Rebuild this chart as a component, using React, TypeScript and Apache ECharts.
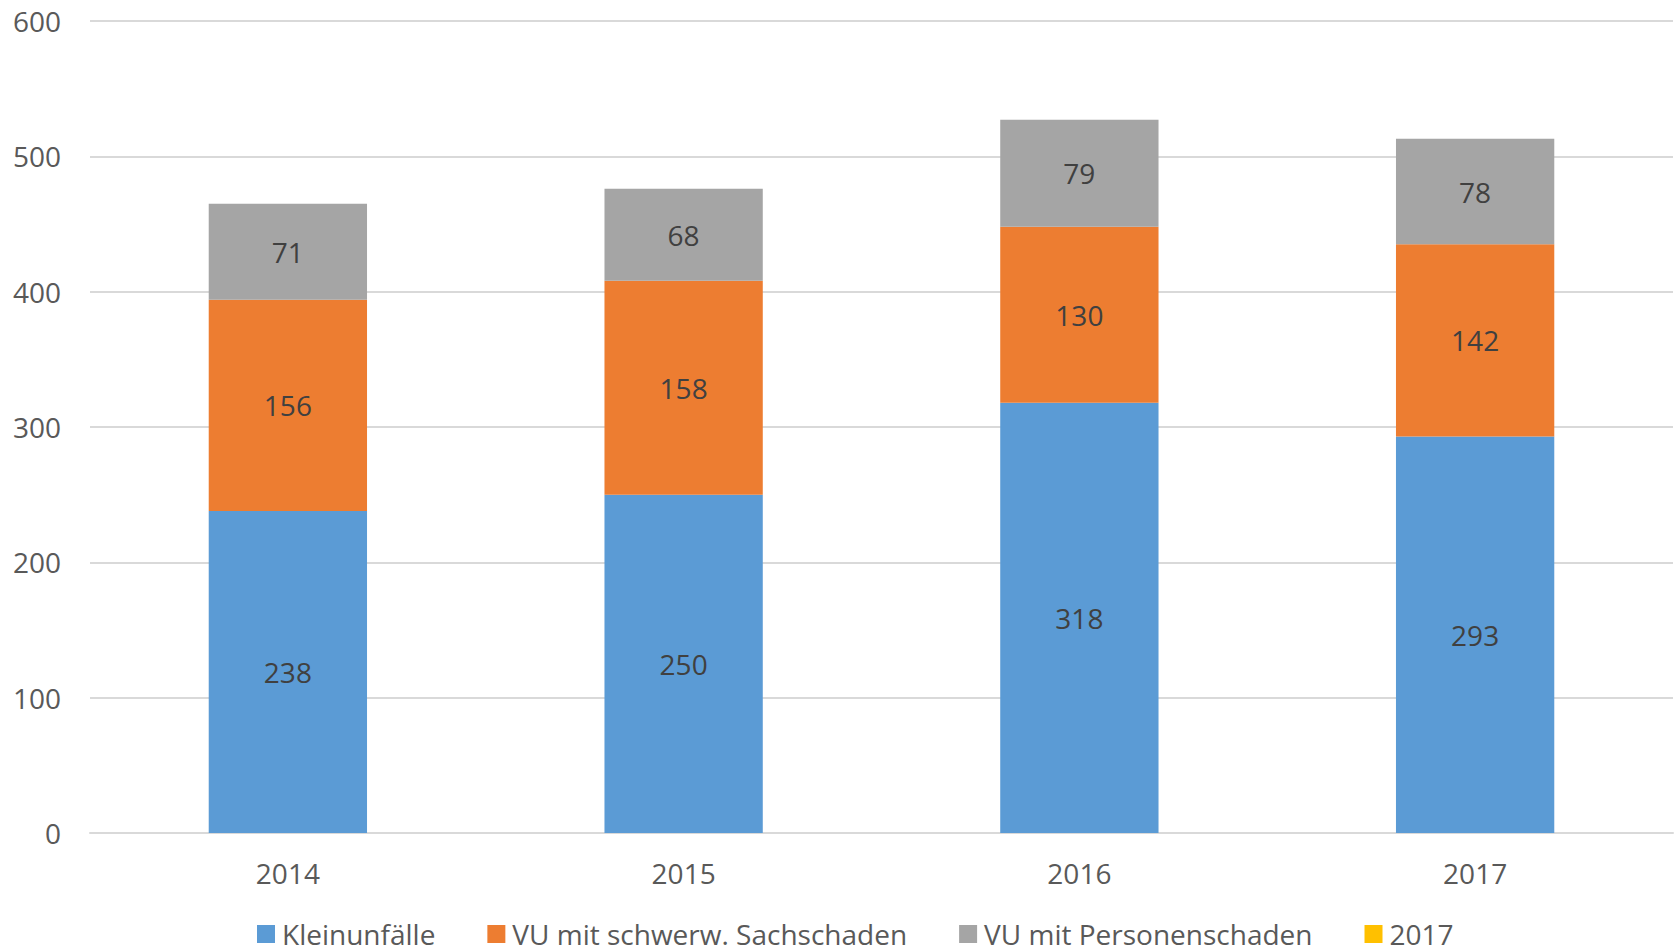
import React, { useEffect, useRef } from "react";
import * as echarts from "echarts";

const categories = ["2014", "2015", "2016", "2017"];
const kleinunfaelle = [238, 250, 318, 293];
const sachschaden = [156, 158, 130, 142];
const personenschaden = [71, 68, 79, 78];
const seriesNames = ["Kleinunfälle", "VU mit schwerw. Sachschaden", "VU mit Personenschaden", "2017"];
const colors = ["#5B9BD5", "#ED7D31", "#A5A5A5", "#FFC000"];

const FONT = "'Open Sans', 'Noto Sans', sans-serif";

export default function App() {
  const ref = useRef<HTMLDivElement>(null);
  useEffect(() => {
    if (!ref.current) return;
    const chart = echarts.init(ref.current, undefined, { renderer: "svg" });
    const label = {
      show: true,
      position: "inside",
      color: "#404040",
      fontSize: 28,
      fontFamily: FONT,
    };
    const mk = (name: string, data: number[], color: string) => ({
      name,
      type: "bar",
      stack: "total",
      barWidth: "40%",
      data,
      itemStyle: { color },
      label,
    });
    chart.setOption({
      animation: false,
      textStyle: { fontFamily: FONT },
      grid: { left: 90, right: 7, top: 21, bottom: 119, containLabel: false },
      legend: {
        left: 252,
        top: 914,
        itemWidth: 18,
        itemHeight: 18,
        itemGap: 52,
        icon: "rect",
        textStyle: { color: "#595959", fontSize: 28, lineHeight: 30, fontFamily: FONT, padding: [0, 0, 0, 2] },
        data: seriesNames,
      },
      xAxis: {
        type: "category",
        data: categories,
        axisLine: { lineStyle: { color: "#D9D9D9", width: 2 } },
        axisTick: { show: false },
        axisLabel: { color: "#595959", fontSize: 28, fontFamily: FONT, margin: 26 },
      },
      yAxis: {
        type: "value",
        min: 0,
        max: 600,
        interval: 100,
        axisLine: { show: false },
        axisTick: { show: false },
        splitLine: { lineStyle: { color: "#D9D9D9", width: 2 } },
        axisLabel: { color: "#595959", fontSize: 28, fontFamily: FONT, margin: 29 },
      },
      series: [
        mk(seriesNames[0], kleinunfaelle, colors[0]),
        mk(seriesNames[1], sachschaden, colors[1]),
        mk(seriesNames[2], personenschaden, colors[2]),
        { name: seriesNames[3], type: "bar", stack: "total", data: [], itemStyle: { color: colors[3] } },
      ],
    });
    return () => chart.dispose();
  }, []);
  return (
    <div
      ref={ref}
      style={{ position: "fixed", left: 0, top: 0, width: 1680, height: 952, background: "#fff" }}
    />
  );
}
